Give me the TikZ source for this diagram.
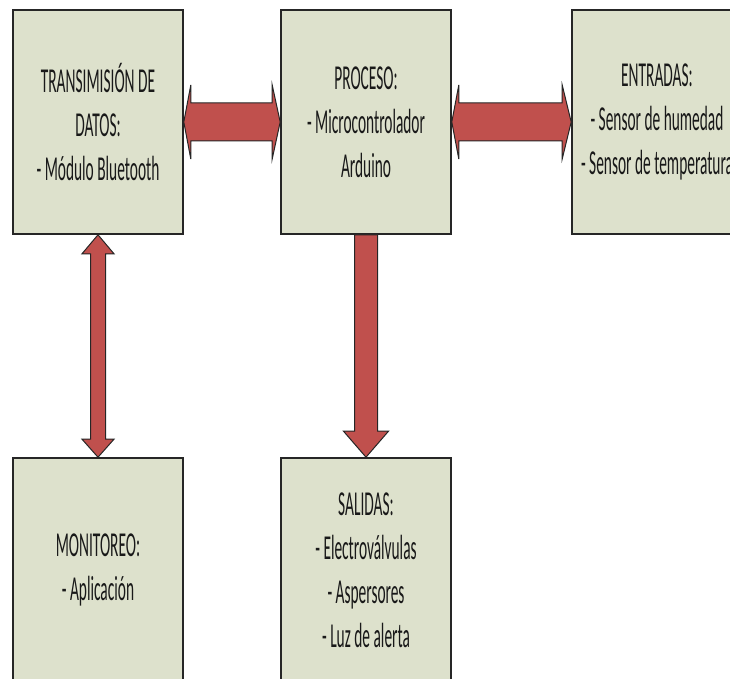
\documentclass[tikz,border=0pt]{standalone}
\usepackage{fontspec}
\newfontfamily\boxfont{Carlito}[FakeStretch=0.44]
\usetikzlibrary{calc}
\definecolor{cajafondo}{RGB}{221,225,204}
\definecolor{flechafondo}{RGB}{192,80,77}

\begin{document}
\begin{tikzpicture}[x=0.5pt, y=-0.5pt,
        caja/.style={draw=black!85, line width=0.8pt, fill=cajafondo, minimum width=85pt, minimum height=112pt, align=center, font=\boxfont\fontsize{17.5}{22}\selectfont, text=black!90},
        flecha/.style={draw=black!85, line width=0.5pt, fill=flechafondo, line join=miter}]
            \clip (0,0) rectangle (730,679);
            \node[caja] (datos) at (98,122) {TRANSIMISIÓN DE\\DATOS:\\- Módulo Bluetooth};
            \node[caja] (proceso) at (366,122) {PROCESO:\\- Microcontrolador\\Arduino};
            \node[caja] (entradas) at (657,122) {ENTRADAS:\\- Sensor de humedad\\- Sensor de temperatura};
            \node[caja] (monitoreo) at (98,570) {MONITOREO:\\- Aplicación};
            \node[caja] (salidas) at (366,570) {SALIDAS:\\- Electroválvulas\\- Aspersores\\- Luz de alerta};
            % flechas horizontales
            \draw[flecha] (datos.east) -- ++(7,-37) -- ++(0,18) -- ($(proceso.west)+(-8,-19)$) -- ++(0,-18) -- (proceso.west) -- ++(-8,37) -- ++(0,-18) -- ($(datos.east)+(7,19)$) -- ++(0,18) -- cycle;
            \draw[flecha] (proceso.east) -- ++(7,-37) -- ++(0,18) -- ($(entradas.west)+(-9,-19)$) -- ++(0,-18) -- (entradas.west) -- ++(-9,37) -- ++(0,-18) -- ($(proceso.east)+(7,19)$) -- ++(0,18) -- cycle;
            % flechas verticales
            \draw[flecha] (datos.south) -- ++(16,19) -- ++(-8.5,0) -- ($(monitoreo.north)+(7.5,-18)$) -- ++(8.5,0) -- (monitoreo.north) -- ++(-16,-18) -- ++(8.5,0) -- ($(datos.south)+(-7.5,19)$) -- ++(-8.5,0) -- cycle;
            \draw[flecha] ($(proceso.south)+(-11.5,0)$) -- ($(salidas.north)+(-11.5,-26)$) -- ++(-11,0) -- (salidas.north) -- ++(22.5,-26) -- ++(-11,0) -- ($(proceso.south)+(11.5,0)$) -- cycle;
        \end{tikzpicture}
\end{document}
